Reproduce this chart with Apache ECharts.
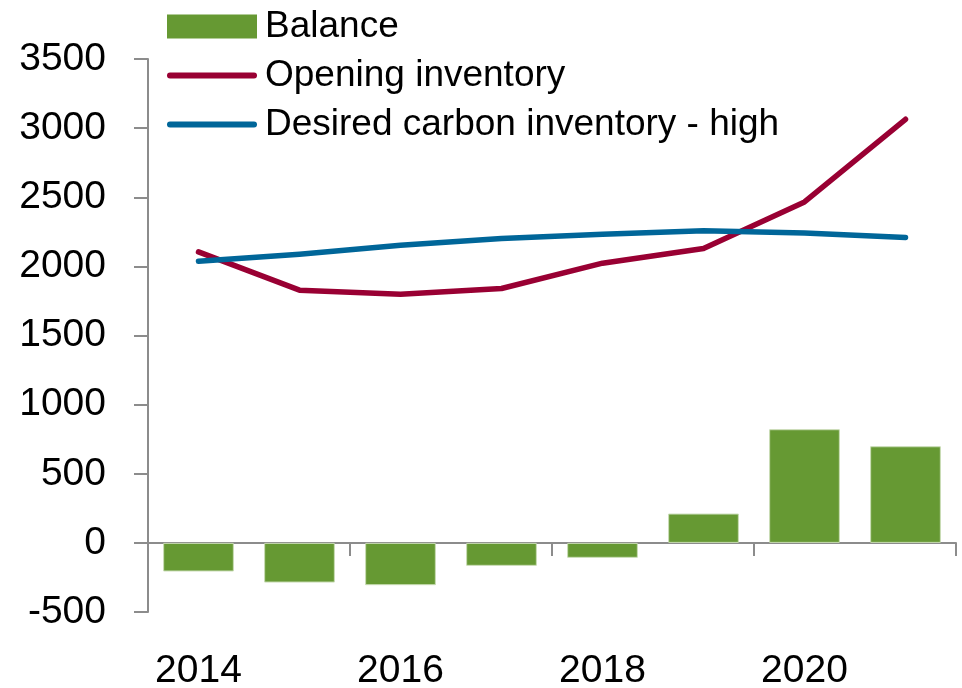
<!DOCTYPE html>
<html>
<head>
<meta charset="utf-8">
<script src="https://cdn.jsdelivr.net/npm/echarts@6/dist/echarts.min.js"></script>
<style>
  html, body { margin: 0; padding: 0; background: #fff; }
  #chart { width: 962px; height: 688px; }
</style>
</head>
<body>
<div id="chart"></div>
<script>
var years = ['2014', '2015', '2016', '2017', '2018', '2019', '2020', '2021'];
var balance = [-207, -287, -306, -166, -108, 212, 822, 699];
var openingInventory = [2105, 1828, 1799, 1840, 2023, 2129, 2466, 3064];
var desiredHigh = [2037, 2088, 2153, 2202, 2233, 2257, 2242, 2209];

var font = '"Liberation Sans", Arial, sans-serif';
var axisGrey = '#8c8c8c';
// thick line with rounded ends for the legend keys of the line series
var lineIcon = 'path://M3,0 L87,0 A3,3 0 0 1 87,6 L3,6 A3,3 0 0 1 3,0 Z';

var option = {
    animation: false,
    backgroundColor: '#ffffff',
    textStyle: { fontFamily: font },
    grid: { left: 148, right: 6, top: 59, bottom: 76, containLabel: false, outerBoundsMode: 'none' },
    legend: {
        orient: 'vertical',
        left: 167,
        top: 8,
        padding: 0,
        itemWidth: 90,
        itemHeight: 24,
        itemGap: 12,
        symbolKeepAspect: true,
        textStyle: {
            fontFamily: font,
            fontSize: 37,
            color: '#000',
            padding: [0, 0, 0, 3]
        },
        data: [
            { name: 'Balance', icon: 'rect', itemStyle: { borderWidth: 0 } },
            { name: 'Opening inventory', icon: lineIcon },
            { name: 'Desired carbon inventory - high', icon: lineIcon }
        ]
    },
    xAxis: {
        type: 'category',
        data: years,
        axisLine: { show: true, onZero: true, lineStyle: { color: axisGrey, width: 2 } },
        axisTick: { show: true, interval: 1, length: 13, lineStyle: { color: axisGrey, width: 2 } },
        axisLabel: { interval: 1, margin: 40, fontSize: 39, color: '#000', fontFamily: font },
        splitLine: { show: false }
    },
    yAxis: {
        type: 'value',
        min: -500,
        max: 3500,
        interval: 500,
        axisLine: { show: true, lineStyle: { color: axisGrey, width: 2 } },
        axisTick: { show: true, length: 14, lineStyle: { color: axisGrey, width: 2 } },
        axisLabel: {
            margin: 42, fontSize: 39, color: '#000', fontFamily: font,
            formatter: function (v) { return String(v); }
        },
        splitLine: { show: false }
    },
    series: [
        {
            name: 'Balance',
            type: 'bar',
            data: balance,
            barCategoryGap: '30%',
            itemStyle: { color: '#669933', borderColor: '#c9dcb5', borderWidth: 1 }
        },
        {
            name: 'Opening inventory',
            type: 'line',
            data: openingInventory,
            symbol: 'none',
            itemStyle: { color: '#990033' },
            lineStyle: { color: '#990033', width: 5.5, cap: 'round', join: 'round' }
        },
        {
            name: 'Desired carbon inventory - high',
            type: 'line',
            data: desiredHigh,
            symbol: 'none',
            itemStyle: { color: '#006699' },
            lineStyle: { color: '#006699', width: 5.5, cap: 'round', join: 'round' }
        }
    ]
};

var chart = echarts.init(document.getElementById('chart'), null, { renderer: 'canvas' });
chart.setOption(option);
</script>
</body>
</html>
